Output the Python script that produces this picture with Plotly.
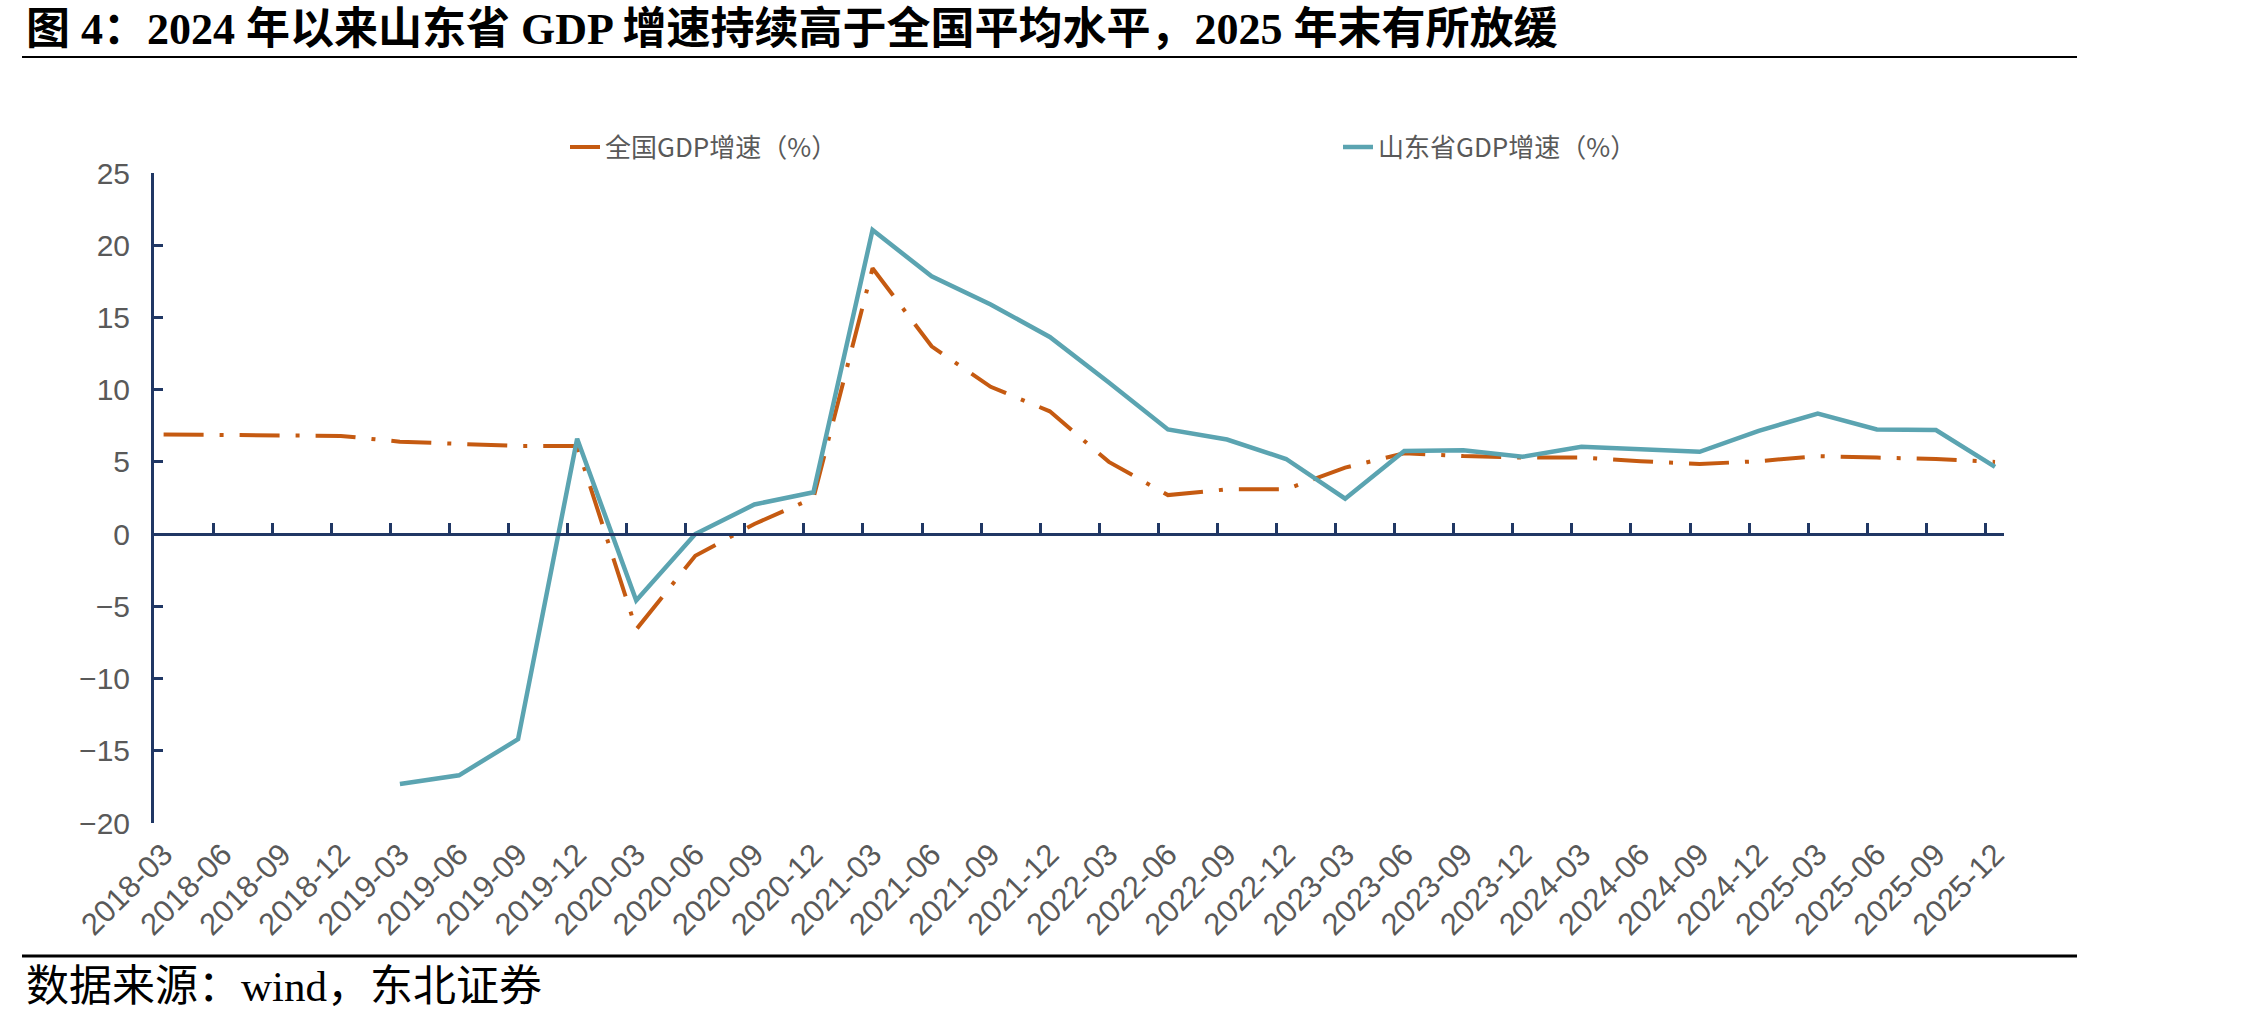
import plotly.graph_objects as go

quarters = ["2018-03", "2018-06", "2018-09", "2018-12",
            "2019-03", "2019-06", "2019-09", "2019-12",
            "2020-03", "2020-06", "2020-09", "2020-12",
            "2021-03", "2021-06", "2021-09", "2021-12",
            "2022-03", "2022-06", "2022-09", "2022-12",
            "2023-03", "2023-06", "2023-09", "2023-12",
            "2024-03", "2024-06", "2024-09", "2024-12",
            "2025-03", "2025-06", "2025-09", "2025-12"]

national = [6.9, 6.85, 6.8, 6.8,
            6.4, 6.25, 6.1, 6.1,
            -6.6, -1.5, 0.7, 2.5,
            18.4, 13.0, 10.2, 8.5,
            5.0, 2.7, 3.1, 3.1,
            4.6, 5.6, 5.4, 5.3,
            5.3, 5.05, 4.85, 5.05,
            5.4, 5.3, 5.2, 5.0]

shandong = [None, None, None, None,
            -17.3, -16.7, -14.2, 6.6,
            -4.6, 0.0, 2.05, 2.9,
            21.05, 17.85, 15.9, 13.65,
            10.5, 7.25, 6.55, 5.2,
            2.45, 5.75, 5.8, 5.35,
            6.05, 5.85, 5.7, 7.15,
            8.35, 7.25, 7.2, 4.65]

name_nat = "全国GDP增速（%）"
name_sd = "山东省GDP增速（%）"
title_text = "图 4：2024 年以来山东省 GDP 增速持续高于全国平均水平，2025 年末有所放缓"
source_text = "数据来源：wind，东北证券"

NAVY = "#203764"
ORANGE = "#C55A11"
TEAL = "#5BA4B1"
GRAY = "#595959"

W, H = 2268, 1023
L, R, T, B = 154, 264, 173, 200
PW = W - L - R
PH = H - T - B

xr = [-0.1625, len(quarters) - 1 + 0.152]

fig = go.Figure()
fig.add_trace(go.Scatter(
    x=quarters, y=national, name=name_nat, mode="lines",
    line=dict(color=ORANGE, width=4, dash="40px,16px,4px,16px"),
))
fig.add_trace(go.Scatter(
    x=quarters, y=shandong, name=name_sd, mode="lines",
    line=dict(color=TEAL, width=4.5),
))
# invisible trace so the zero-line axis (x2) is rendered
fig.add_trace(go.Scatter(
    x=list(range(len(quarters))), y=national, xaxis="x2", mode="lines",
    line=dict(color="rgba(0,0,0,0)", width=0), showlegend=False, hoverinfo="skip",
))

yr = [-20, 25]
zero_pos = (0 - yr[0]) / (yr[1] - yr[0])

fig.update_layout(
    width=W, height=H,
    margin=dict(l=L, r=R, t=T, b=B),
    paper_bgcolor="white", plot_bgcolor="white",
    font=dict(family="Liberation Sans, Arial, Noto Sans CJK SC", color=GRAY),
    title=dict(text=title_text, x=26 / W, xanchor="left", xref="container",
               y=1 - 29 / H, yanchor="middle", yref="container",
               font=dict(family="Liberation Serif, Noto Sans CJK SC", size=44,
                         color="black", weight="bold")),
    xaxis=dict(type="category", range=xr, showline=False, ticks="",
               showgrid=False, zeroline=False, tickangle=-45,
               tickfont=dict(size=31, color=GRAY, family="Liberation Sans, Arial"),
               ticklabelstandoff=6),
    xaxis2=dict(overlaying="x", anchor="free", position=zero_pos, side="bottom",
                range=xr, tickmode="linear", tick0=xr[0], dtick=1,
                showline=True, linecolor=NAVY, linewidth=3,
                ticks="inside", ticklen=10, tickwidth=3, tickcolor=NAVY,
                showticklabels=False, showgrid=False, zeroline=False),
    yaxis=dict(range=yr, dtick=5, tick0=0, showline=True, linecolor=NAVY, linewidth=3,
               ticks="inside", ticklen=9, tickwidth=3, tickcolor=NAVY,
               showgrid=False, zeroline=False,
               tickfont=dict(size=30, color=GRAY, family="Liberation Sans, Arial"),
               ticklabelstandoff=15),
    legend=dict(orientation="h", x=(565 - L) / PW, xanchor="left",
                y=1 + (T - 147) / PH, yanchor="middle",
                font=dict(family="Noto Sans CJK SC", size=26, color=GRAY),
                entrywidth=728, entrywidthmode="pixels",
                bgcolor="rgba(0,0,0,0)"),
    showlegend=True,
)

def px_x(px):
    return (px - L) / PW

def px_y(py):
    return (H - B - py) / PH

fig.add_shape(type="line", xref="paper", yref="paper",
              x0=px_x(22), x1=px_x(2077), y0=px_y(57), y1=px_y(57),
              line=dict(color="black", width=2))
fig.add_shape(type="line", xref="paper", yref="paper",
              x0=px_x(22), x1=px_x(2077), y0=px_y(956), y1=px_y(956),
              line=dict(color="black", width=3))

fig.add_annotation(text=source_text, xref="paper", yref="paper",
                   x=px_x(24), y=px_y(986), xanchor="left", yanchor="middle",
                   showarrow=False,
                   font=dict(family="Liberation Serif, Noto Sans CJK SC", size=43,
                             color="black"))

fig.write_html("out.html")
